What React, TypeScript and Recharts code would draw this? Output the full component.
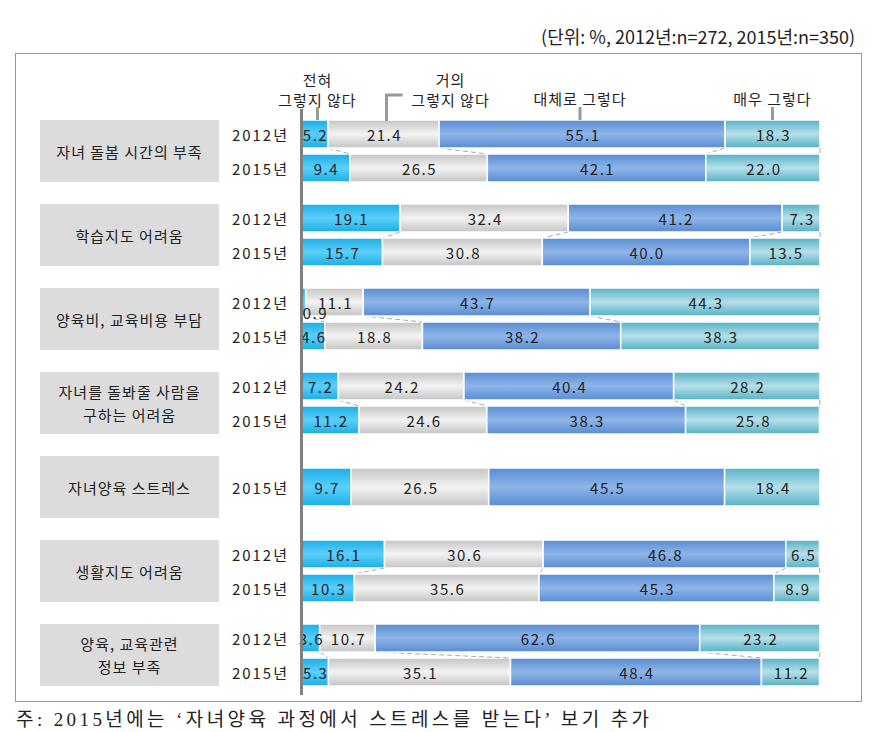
import { Bar, BarChart, LabelList, XAxis, YAxis } from "recharts";

// categories (left boxes)
const groups = [
  "자녀 돌봄 시간의 부족",
  "학습지도 어려움",
  "양육비, 교육비용 부담",
  "자녀를 돌봐줄 사람을\n구하는 어려움",
  "자녀양육 스트레스",
  "생활지도 어려움",
  "양육, 교육관련\n정보 부족",
];
const years = ["2012년", "2015년"];

// answers, in stacking order
const answerNotes = [
  ["전혀", "그렇지 않다"],
  ["거의", "그렇지 않다"],
  ["대체로 그렇다"],
  ["매우 그렇다"],
];

// 2012 (no item for 자녀양육 스트레스)
const notAtAll2012 = [5.2, 19.1, 0.9, 7.2, null, 16.1, 3.6];
const hardly2012 = [21.4, 32.4, 11.1, 24.2, null, 30.6, 10.7];
const mostly2012 = [55.1, 41.2, 43.7, 40.4, null, 46.8, 62.6];
const very2012 = [18.3, 7.3, 44.3, 28.2, null, 6.5, 23.2];

// 2015
const notAtAll2015 = [9.4, 15.7, 4.6, 11.2, 9.7, 10.3, 5.3];
const hardly2015 = [26.5, 30.8, 18.8, 24.6, 26.5, 35.6, 35.1];
const mostly2015 = [42.1, 40.0, 38.2, 38.3, 45.5, 45.3, 48.4];
const very2015 = [22.0, 13.5, 38.3, 25.8, 18.4, 8.9, 11.2];

const keys = ["a", "b", "c", "d"];
const shades = [
  ["#1aaee6", "#5ccffb"],
  ["#c4c4c4", "#f3f3f3"],
  ["#598cd4", "#8eb5e7"],
  ["#55b2c5", "#b6dfe9"],
];

const FONT = '"Noto Sans CJK KR", "Noto Sans", sans-serif';
const TEXT = "#222";
const BAND = 34;
const BAR = 28;
const GAP = BAND - BAR;
const noteDx = [3, 3, -2, 0];

function rowsFor(g: number) {
  const v12 = [notAtAll2012[g], hardly2012[g], mostly2012[g], very2012[g]];
  const v15 = [notAtAll2015[g], hardly2015[g], mostly2015[g], very2015[g]];
  const rows: any[] = [];
  const has12 = v12[0] != null;
  if (has12) {
    rows.push({ year: years[0], a: v12[0], b: v12[1], c: v12[2], d: v12[3], prev: null });
  }
  rows.push({ year: years[1], a: v15[0], b: v15[1], c: v15[2], d: v15[3], prev: has12 ? v12 : null });
  return rows;
}

function makeShape(gi: number, k: number, withNotes: boolean) {
  return (p: any) => {
    const { x, y, width, height, payload, index } = p;
    const out: any[] = [
      <rect
        key="r"
        x={x}
        y={y}
        width={width}
        height={height}
        fill={`url(#grad-${gi}-${k})`}
        stroke="#fff"
        strokeWidth={1.5}
      />,
    ];
    if (payload && payload.prev) {
      const val = payload[keys[k]];
      const s = width / val;
      let c12 = 0;
      let c15 = 0;
      for (let j = 0; j <= k; j++) {
        c12 += payload.prev[j];
        c15 += payload[keys[j]];
      }
      const x15 = x + width;
      const x12 = x15 + (c12 - c15) * s;
      out.push(
        <line key="c" x1={x12} y1={y - GAP} x2={x15} y2={y} stroke="#aaa" strokeWidth={1} strokeDasharray="5 3" />
      );
    }
    if (withNotes && index === 0) {
      const cx = x + width / 2 + noteDx[k];
      const lines = answerNotes[k];
      let tx = cx;
      if (k === 1) {
        out.push(
          <path key="t" d={`M${cx},${y + 1} L${cx},${y - 25} L${cx + 16},${y - 25}`} fill="none" stroke="#999" strokeWidth={3} />
        );
        tx = cx + 64;
      } else {
        out.push(<line key="t" x1={cx} y1={y - 13} x2={cx} y2={y} stroke="#999" strokeWidth={3} />);
      }
      lines.forEach((t, i) => {
        const ty = lines.length === 2 ? y - 41 + i * 20 : y - 22;
        out.push(
          <text
            key={`n${i}`}
            x={tx}
            y={ty}
            textAnchor="middle"
            dominantBaseline="central"
            fontFamily={FONT}
            fontSize={15}
            letterSpacing={1}
            fill={TEXT}
          >
            {t}
          </text>
        );
      });
    }
    return <g>{out}</g>;
  };
}

const valueLabel = (p: any) => {
  const vb = p.viewBox ?? p;
  const { x, y, width, height } = vb;
  const v = p.value;
  if (v == null) return null;
  const small = v < 2;
  const cx = small ? x + width / 2 + 11 : x + width / 2;
  const cy = small ? y + height * 0.88 : y + height / 2;
  return (
    <text
      x={cx + 1}
      y={cy}
      textAnchor="middle"
      dominantBaseline="central"
      fontFamily={FONT}
      fontSize={15}
      letterSpacing={1.5}
      fill={TEXT}
    >
      {Number(v).toFixed(1)}
    </text>
  );
};

const yearTick = (p: any) => (
  <text
    x={p.x}
    y={p.y}
    textAnchor="end"
    dominantBaseline="central"
    fontFamily={FONT}
    fontSize={15}
    letterSpacing={2}
    fill={TEXT}
  >
    {p.payload.value}
  </text>
);

function GroupChart({ gi }: { gi: number }) {
  const rows = rowsFor(gi);
  const notes = gi === 0;
  const extra = notes ? 70 : 0;
  const barSize = rows.length === 2 ? BAR : 38;
  return (
    <div style={{ position: "absolute", left: 225, top: 117 + 84 * gi - extra }}>
      <BarChart
        width={600}
        height={BAND * 2 + extra}
        data={rows}
        layout="vertical"
        margin={{ top: extra, right: 5, bottom: 0, left: 0 }}
        barSize={barSize}
        barCategoryGap={0}
      >
        <defs>
          {shades.map((c, k) => (
            <linearGradient key={k} id={`grad-${gi}-${k}`} x1="0" y1="0" x2="0" y2="1">
              <stop offset="0" stopColor={c[0]} />
              <stop offset="0.5" stopColor={c[1]} />
              <stop offset="1" stopColor={c[0]} />
            </linearGradient>
          ))}
        </defs>
        <XAxis type="number" domain={[0, 100]} hide />
        <YAxis
          type="category"
          dataKey="year"
          width={76}
          axisLine={false}
          tickLine={false}
          tickSize={0}
          tickMargin={12}
          tick={yearTick}
        />
        {keys.map((k, i) => (
          <Bar key={k} dataKey={k} stackId="s" isAnimationActive={false} shape={makeShape(gi, i, notes)}>
            <LabelList dataKey={k} content={valueLabel} />
          </Bar>
        ))}
      </BarChart>
    </div>
  );
}

export default function App() {
  return (
    <div style={{ position: "absolute", left: 0, top: 0, width: 876, height: 732, background: "#fff", fontFamily: FONT, color: TEXT }}>
      <div style={{ position: "absolute", right: 21, top: 23, fontSize: 18, whiteSpace: "nowrap" }}>
        (단위: %, 2012년:n=272, 2015년:n=350)
      </div>
      <div style={{ position: "absolute", left: 15, top: 53, width: 845, height: 647, border: "1px solid #999" }} />
      {groups.map((g, i) => (
        <div
          key={g}
          style={{
            position: "absolute",
            left: 40,
            top: 120 + 84 * i,
            width: 179,
            height: 62,
            background: "#dcdcdc",
            display: "flex",
            alignItems: "center",
            justifyContent: "center",
            textAlign: "center",
            whiteSpace: "pre-line",
            fontSize: 15,
            letterSpacing: 1,
            lineHeight: "23px",
          }}
        >
          {g}
        </div>
      ))}
      {groups.map((g, i) => (
        <GroupChart key={g} gi={i} />
      ))}
      <div style={{ position: "absolute", left: 300, top: 109, width: 3, height: 586, background: "#808080" }} />
      <div
        style={{
          position: "absolute",
          left: 16,
          top: 704,
          fontFamily: '"Liberation Serif", "Noto Sans CJK KR", serif',
          fontSize: 19,
          letterSpacing: 3.4,
          whiteSpace: "nowrap",
        }}
      >
        주: 2015년에는 ‘자녀양육 과정에서 스트레스를 받는다’ 보기 추가
      </div>
    </div>
  );
}
